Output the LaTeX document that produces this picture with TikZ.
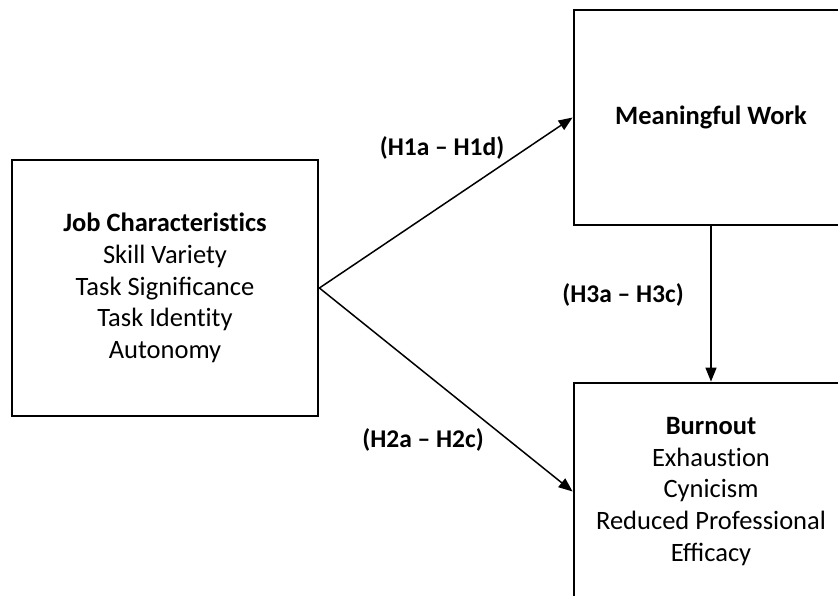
\documentclass[tikz,border=0pt]{standalone}
\usepackage{fontspec}
\setmainfont{Carlito}
\usetikzlibrary{arrows.meta}
\newcommand{\nti}{t\kern0pt i}
\begin{document}
\begin{tikzpicture}[x=1pt,y=-1pt,
  box/.style={draw, line width=2.8pt, rectangle, inner sep=0pt, align=center, font=\fontsize{26.5}{31.6}\selectfont},
  arr/.style={line width=1.5pt, -{Triangle[length=14pt,width=11pt]}},
  lab/.style={font=\fontsize{25.5}{28}\selectfont\bfseries, inner sep=0pt}]
\useasboundingbox (0,0) rectangle (838,596);
\clip (0,0) rectangle (838,596);
\node[box, minimum width=306pt, minimum height=256pt] (job) at (165,288)
  {\textbf{Job Characteris\nti cs}\\Skill Variety\\Task Significance\\Task Iden\nti ty\\Autonomy};
\node[box, minimum width=274pt, minimum height=215pt] (mw) at (711,117.5)
  {\textbf{Meaningful Work}};
\node[box, minimum width=274pt, minimum height=217pt] (bo) at (711,491.5)
  {\textbf{Burnout}\\Exhaus\nti on\\Cynicism\\Reduced Professional\\Efficacy};
\draw[arr] (job.east) -- (mw.west);
\draw[arr] (job.east) -- (bo.west);
\draw[arr] (mw.south) -- (bo.north);
\node[lab] (h1) at (442,148) {(H1a – H1d)};
\node[lab] (h2) at (423,440) {(H2a – H2c)};
\node[lab] (h3) at (623,295) {(H3a – H3c)};
\end{tikzpicture}
\end{document}
